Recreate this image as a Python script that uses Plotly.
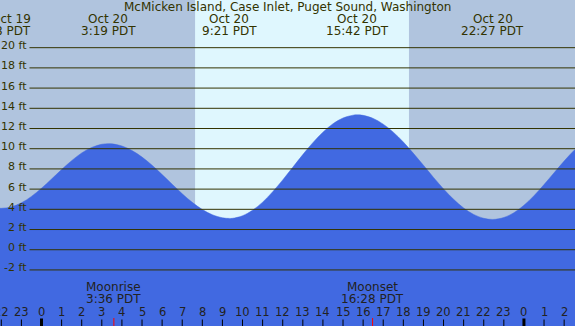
import plotly.graph_objects as go

# ---- data ----
tide_hours = [-2.5, -2, -1.5, -1, -0.5, 0, 0.5, 1, 1.5, 2, 2.5, 3, 3.32, 3.5, 4, 4.5, 5, 5.5, 6, 6.5,
              7, 7.5, 8, 8.5, 9, 9.35, 9.5, 10, 10.5, 11, 11.5, 12, 12.5, 13, 13.5, 14, 14.5, 15, 15.5,
              15.7, 16, 16.5, 17, 17.5, 18, 18.5, 19, 19.5, 20, 20.5, 21, 21.5, 22, 22.45, 23, 23.5,
              24, 24.5, 25, 25.5, 26, 26.5, 27]
tide_feet = [4.15, 4.1, 4.24, 4.64, 5.28, 6.09, 7.0, 7.94, 8.82, 9.58, 10.13, 10.44, 10.5, 10.48, 10.27,
             9.82, 9.17, 8.36, 7.44, 6.48, 5.54, 4.69, 3.98, 3.46, 3.16, 3.1, 3.11, 3.36, 3.91, 4.71,
             5.74, 6.91, 8.16, 9.42, 10.6, 11.64, 12.47, 13.04, 13.32, 13.35, 13.3, 13.0, 12.43, 11.64,
             10.66, 9.54, 8.36, 7.16, 6.02, 4.99, 4.13, 3.49, 3.11, 3.0, 3.19, 3.66, 4.4, 5.35, 6.45,
             7.62, 8.78, 9.85, 10.77]

event_hours = [-0.40, 3.32, 9.35, 15.7, 22.45]
event_dates = ["Oct 19", "Oct 20", "Oct 20", "Oct 20", "Oct 20"]
event_times = ["21:58 PDT", "3:19 PDT", "9:21 PDT", "15:42 PDT", "22:27 PDT"]

moon_hours = [3.6, 16.47]
moon_names = ["Moonrise", "Moonset"]
moon_times = ["3:36 PDT", "16:28 PDT"]

sunrise_hour = 7.64
sunset_hour = 18.28

grid_levels = [-2, 0, 2, 4, 6, 8, 10, 12, 14, 16, 18, 20]
hour_ticks = list(range(-2, 27))
midnights = [0, 24]

title = "McMicken Island, Case Inlet, Puget Sound, Washington"

# ---- styling ----
W, H = 575, 326
NIGHT = "#B0C4DE"
DAY = "#DFF7FE"
WATER = "#4169E1"
INK = "#333300"
FONT = dict(family="DejaVu Sans", size=12, color=INK)
FONT_SMALL = dict(family="DejaVu Sans", size=11, color=INK)
FONT2 = dict(family="DejaVu Sans", size=12, color="#222222")
FONT2_SMALL = dict(family="DejaVu Sans", size=11.5, color="#222222")

fig = go.Figure()
fig.add_trace(go.Scatter(x=[tide_hours[0], tide_hours[-1]], y=[-30, -30], mode="lines",
                         line=dict(width=0), hoverinfo="skip", showlegend=False))
fig.add_trace(go.Scatter(x=tide_hours, y=tide_feet, mode="lines",
                         line=dict(color=WATER, width=0.5, shape="spline"),
                         fill="tonexty", fillcolor=WATER, hoverinfo="skip", showlegend=False))

shapes = []
annotations = []

def py(p):
    return 1 - p / H

shapes.append(dict(type="rect", xref="x", yref="paper", x0=sunrise_hour, x1=sunset_hour, y0=0, y1=1,
                   fillcolor=DAY, line=dict(width=0), layer="below"))

for lv in grid_levels:
    shapes.append(dict(type="line", xref="paper", yref="y", x0=29.5 / W, x1=1, y0=lv, y1=lv,
                       line=dict(color=INK, width=1), layer="above"))
    annotations.append(dict(x=28.5 / W, xref="paper", y=lv, yref="y", yshift=2, xanchor="right",
                            yanchor="middle", text=f"{lv} ft", showarrow=False, font=FONT_SMALL))

annotations.append(dict(x=0.5, xref="paper", y=py(7.5), yref="paper", xanchor="center", yanchor="middle",
                        text=title, showarrow=False, font=FONT))

for i, (h, d, t) in enumerate(zip(event_hours, event_dates, event_times)):
    anc = "right" if i == 0 else "center"
    annotations.append(dict(x=h, xref="x", y=py(19.5), yref="paper", xanchor=anc, yanchor="middle",
                            text=d, showarrow=False, font=FONT))
    annotations.append(dict(x=h, xref="x", y=py(31.4), yref="paper", xanchor=anc, yanchor="middle",
                            text=t, showarrow=False, font=FONT))

for h, n, t in zip(moon_hours, moon_names, moon_times):
    annotations.append(dict(x=h, xref="x", y=py(286.8), yref="paper", xanchor="center", yanchor="middle",
                            text=n, showarrow=False, font=FONT2))
    annotations.append(dict(x=h, xref="x", y=py(298.5), yref="paper", xanchor="center", yanchor="middle",
                            text=t, showarrow=False, font=FONT2))
    shapes.append(dict(type="line", xref="x", yref="paper", x0=h, x1=h, y0=0, y1=py(318),
                       line=dict(color="#FF0000", width=1), layer="above"))

for h in hour_ticks:
    annotations.append(dict(x=h, xref="x", y=py(311.8), yref="paper", xanchor="center", yanchor="middle",
                            text=str(h % 24), showarrow=False, font=FONT2_SMALL))
    wide = h in midnights
    shapes.append(dict(type="line", xref="x", yref="paper", x0=h, x1=h, y0=0, y1=py(318.5 if wide else 319.5),
                       line=dict(color="#000000", width=3 if wide else 1), layer="above"))

fig.update_layout(
    width=W, height=H, margin=dict(l=0, r=0, t=0, b=0),
    plot_bgcolor=NIGHT, paper_bgcolor=NIGHT,
    xaxis=dict(range=[-2.065, 26.54], visible=False, fixedrange=True),
    yaxis=dict(range=[-7.55, 24.72], visible=False, fixedrange=True),
    shapes=shapes, annotations=annotations, showlegend=False,
)

fig.write_html("out.html", config={"displayModeBar": False},
               post_script="document.body.style.margin='0';document.body.style.padding='0';"
                           "document.body.style.overflow='hidden';")
